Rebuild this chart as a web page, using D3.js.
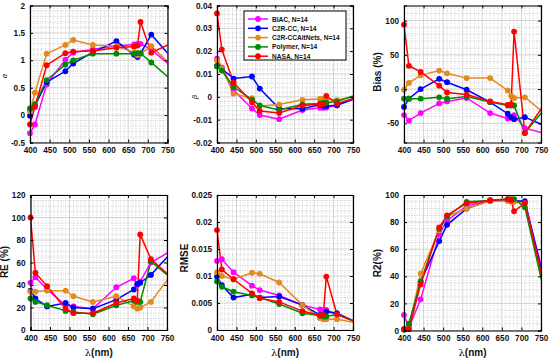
<!DOCTYPE html>
<html>
<head>
<meta charset="utf-8">
<script src="https://cdn.jsdelivr.net/npm/d3@7"></script>
<style>
  body { margin: 0; background: #fff; }
  svg { display: block; }
  text { font-family: "Liberation Sans", Arial, sans-serif; }
</style>
</head>
<body>
<script>
// OLCI bands (nm)
var wl = [400, 412.5, 442.5, 490, 510, 560, 620, 665, 673.75, 681.25, 708.75, 753.75];
var methods = ["BIAC, N=14", "C2R-CC, N=14", "C2R-CCAltNets, N=14", "Polymer, N=14", "NASA, N=14"];
var colors = ["#ff00ff", "#0000ff", "#e38a1f", "#008a00", "#ff0000"];
var xTicks = [400, 450, 500, 550, 600, 650, 700, 750];

// one row per method, same order as methods
var alpha = [
  [-0.33, -0.17, 0.56, 1.01, 1.14, 1.2, 1.26, 1.29, 1.3, 1.3, 1.2, 0.92],
  [-0.01, 0.17, 0.60, 0.80, 0.94, 1.15, 1.35, 1.10, 1.06, 1.12, 1.47, 1.1],
  [0.07, 0.41, 1.12, 1.28, 1.37, 1.28, 1.26, 1.14, 1.09, 1.12, 1.26, 0.95],
  [0.12, 0.20, 0.64, 0.92, 1.0, 1.12, 1.12, 1.12, 1.13, 1.13, 0.96, 0.68],
  [-0.17, 0.15, 0.91, 1.13, 1.16, 1.17, 1.23, 1.25, 1.27, 1.70, 1.14, 1.29]
];
var beta = [
  [0.0167, 0.0128, 0.003, -0.0051, -0.008, -0.0098, -0.0058, -0.0048, -0.0048, -0.0047, -0.0037, -0.0008],
  [0.0135, 0.0122, 0.008, 0.0089, 0.0036, -0.0051, -0.0052, -0.0035, -0.004, -0.004, -0.0037, -0.0008],
  [0.016, 0.0125, 0.0014, -0.0006, -0.004, -0.0034, -0.0013, -0.0009, -0.0009, -0.001, -0.0014, 0.0002],
  [0.0133, 0.0115, 0.0044, -0.0012, -0.0038, -0.0058, -0.0033, -0.0029, -0.0026, -0.0026, -0.002, 0.0006],
  [0.0365, 0.0207, 0.0063, -0.0024, -0.0062, -0.0071, -0.0038, -0.0033, -0.0031, 0.0004, -0.003, -0.0005]
];
var bias = [
  [-38, -46, -35, -21, -18, -13, -35, -43, -42, -38, -57, -64],
  [-26, -14, 0, 15, 10, -1, -19, -36, -41, -44, -41, -52],
  [-1, 9, 20, 27, 23, 16, 16, -2, -10, -13, -12, -33],
  [-14, -14, -14, -12, -14, -11, -19, -24, -24, -24, -64, -33],
  [94, 34, 25, 5, -5, -8, -18, -23, -22, 84, -64, -26]
];
var re = [
  [42, 47, 36, 22, 21, 19, 38, 46, 40, 43, 60, 69],
  [35, 28, 21, 24, 20, 19, 27, 36, 41, 42, 49, 66],
  [34, 34, 35, 35, 30, 25, 30, 21, 19, 20, 25, 46],
  [28, 25, 22, 17, 16, 14, 22, 26, 25, 25, 61, 48],
  [100, 51, 39, 19, 15, 15, 24, 28, 26, 85, 63, 49]
];
var rmse = [
  [0.0128, 0.0131, 0.0107, 0.0082, 0.0074, 0.0064, 0.0046, 0.0038, 0.0037, 0.0037, 0.0029, 0.0016],
  [0.0099, 0.0083, 0.006, 0.0066, 0.006, 0.0062, 0.0046, 0.0028, 0.0028, 0.0034, 0.0031, 0.0016],
  [0.0107, 0.01, 0.0094, 0.0106, 0.0104, 0.0088, 0.0046, 0.0022, 0.002, 0.002, 0.002, 0.0014],
  [0.009, 0.008, 0.0071, 0.0064, 0.006, 0.0048, 0.0031, 0.0027, 0.0025, 0.0025, 0.0029, 0.0016],
  [0.0185, 0.0112, 0.0094, 0.0068, 0.0059, 0.0052, 0.0035, 0.0027, 0.0028, 0.0099, 0.0029, 0.0016]
];
var r2 = [
  [11.5, 2, 23, 71, 81, 92, 96, 96, 96, 96, 94.5, 44],
  [1, 4, 36, 66, 78, 90, 96, 96, 96, 95.5, 95.5, 42],
  [1, 2, 42, 74, 84, 90, 95.5, 95.5, 95, 95, 94, 37],
  [0.5, 5, 36, 75, 84, 95, 96, 97, 97, 97, 91, 34],
  [1, 1, 34, 76, 85, 94, 96, 97, 96, 88, 94, 39]
];

var yTicksAlpha = [-0.5, 0, 0.5, 1, 1.5, 2];
var yTicksBeta = [-0.02, -0.01, 0, 0.01, 0.02, 0.03, 0.04];
var yTicksBias = [-50, 0, 50, 100];
var yTicksRE = [0, 20, 40, 60, 80, 100, 120];
var yTicksRMSE = [0, 0.005, 0.01, 0.015, 0.02, 0.025];
var yTicksR2 = [0, 20, 40, 60, 80, 100];

var svg = d3.select("body").append("svg")
  .attr("width", 550)
  .attr("height", 360);

var panels = [
  {x: 30, y: 5.5, w: 137.5, h: 137, data: alpha, dom: [-0.5, 2], ticks: yTicksAlpha, minor: 0.1, label: "\u03b1", greek: true, lx: 7, ly: 76},
  {x: 217, y: 5.5, w: 136, h: 137, data: beta, dom: [-0.02, 0.04], ticks: yTicksBeta, minor: 0.002, label: "\u03b2", greek: true, lx: 197, ly: 97},
  {x: 404, y: 5.5, w: 137, h: 137, data: bias, dom: [-78, 122], ticks: yTicksBias, minor: 10, label: "Bias (%)", lx: 381, ly: 72},
  {x: 30.5, y: 195, w: 136.5, h: 135, data: re, dom: [0, 120], ticks: yTicksRE, minor: 5, label: "RE (%)", lx: 8, ly: 262, xl: true},
  {x: 217, y: 195, w: 136, h: 135, data: rmse, dom: [0, 0.025], ticks: yTicksRMSE, minor: 0.001, label: "RMSE", lx: 188, ly: 258, xl: true},
  {x: 404, y: 195, w: 137, h: 135.5, data: r2, dom: [0, 100], ticks: yTicksR2, minor: 5, label: "R2(%)", lx: 381, ly: 263, xl: true}
];

panels.forEach(function(p, pi) {
  var x = d3.scaleLinear().domain([400, 750]).range([0, p.w]);
  var y = d3.scaleLinear().domain(p.dom).range([p.h, 0]);
  var g = svg.append("g").attr("transform", "translate(" + p.x + "," + p.y + ")");

  // minor grid (dotted)
  var xMinor = d3.range(410, 750, 10).filter(function(v) { return v % 50 != 0; });
  var yMinor = d3.range(Math.ceil(p.dom[0] / p.minor), Math.floor(p.dom[1] / p.minor) + 1)
    .map(function(k) { return k * p.minor; })
    .filter(function(v) { return !p.ticks.some(function(t) { return Math.abs(t - v) < p.minor / 10; }); });
  g.selectAll(".mx").data(xMinor).enter().append("line")
    .attr("x1", x).attr("x2", x).attr("y1", 0).attr("y2", p.h)
    .attr("stroke", "#b0b0b0").attr("stroke-width", 0.6).attr("stroke-dasharray", "1,1.5");
  g.selectAll(".my").data(yMinor).enter().append("line")
    .attr("y1", y).attr("y2", y).attr("x1", 0).attr("x2", p.w)
    .attr("stroke", "#b0b0b0").attr("stroke-width", 0.6).attr("stroke-dasharray", "1,1.5");

  // major grid
  g.selectAll(".gx").data(xTicks).enter().append("line")
    .attr("x1", x).attr("x2", x).attr("y1", 0).attr("y2", p.h)
    .attr("stroke", "#d3d3d3").attr("stroke-width", 1);
  g.selectAll(".gy").data(p.ticks).enter().append("line")
    .attr("y1", y).attr("y2", y).attr("x1", 0).attr("x2", p.w)
    .attr("stroke", "#d3d3d3").attr("stroke-width", 1);

  // clip lines to the axes box, markers stay whole
  svg.append("clipPath").attr("id", "clip" + pi)
    .append("rect").attr("width", p.w).attr("height", p.h);

  var plot = g.append("g").attr("clip-path", "url(#clip" + pi + ")");
  var marks = g.append("g");
  var line = d3.line().x(function(d, i) { return x(wl[i]); }).y(function(d) { return y(d); });

  p.data.forEach(function(row, si) {
    plot.append("path")
      .datum(row)
      .attr("d", line)
      .attr("fill", "none")
      .attr("stroke", colors[si])
      .attr("stroke-width", 1.5);
    var pts = row.map(function(v, i) { return {w: wl[i], v: v}; })
      .filter(function(d) { return d.w <= 750; });
    marks.selectAll(".pt" + si).data(pts).enter().append("circle")
      .attr("cx", function(d) { return x(d.w); })
      .attr("cy", function(d) { return y(d.v); })
      .attr("r", 2.9)
      .attr("fill", colors[si]);
  });

  // axes, MATLAB style box with ticks inward
  var xb = d3.axisBottom(x).tickValues(xTicks).tickSize(-3).tickPadding(5).tickFormat(d3.format("d"));
  var xt = d3.axisTop(x).tickValues(xTicks).tickSize(-3).tickFormat("");
  var yl = d3.axisLeft(y).tickValues(p.ticks).tickSize(-3).tickPadding(5).tickFormat(function(d) { return String(d); });
  var yr = d3.axisRight(y).tickValues(p.ticks).tickSize(-3).tickFormat("");

  var ax = g.append("g");
  ax.append("g").attr("transform", "translate(0," + p.h + ")").call(xb);
  ax.append("g").call(xt);
  ax.append("g").call(yl);
  ax.append("g").attr("transform", "translate(" + p.w + ",0)").call(yr);

  ax.selectAll(".domain").attr("stroke", "#000").attr("stroke-width", 1.2);
  ax.selectAll(".tick line").attr("stroke", "#000");
  ax.selectAll(".tick text")
    .attr("font-family", "Liberation Sans, Arial, sans-serif")
    .attr("font-weight", "bold")
    .attr("font-size", 8.2)
    .attr("fill", "#111");

  // y label
  var lab = svg.append("text")
    .attr("transform", "translate(" + p.lx + "," + p.ly + ") rotate(-90)")
    .attr("text-anchor", "middle")
    .attr("fill", "#111");
  if (p.greek) {
    lab.attr("font-family", "DejaVu Serif, serif").attr("font-style", "italic").attr("font-size", 7).text(p.label);
  } else {
    lab.attr("font-weight", "bold").attr("font-size", 10).text(p.label);
  }

  // x label
  if (p.xl) {
    var t = svg.append("text")
      .attr("x", p.x + p.w / 2)
      .attr("y", 356)
      .attr("text-anchor", "middle")
      .attr("font-size", 10)
      .attr("fill", "#111");
    t.append("tspan").attr("font-family", "DejaVu Serif, serif").text("\u03bb");
    t.append("tspan").attr("font-weight", "bold").text("(nm)");
  }
});

// legend in beta panel
var leg = svg.append("g").attr("transform", "translate(244,11)");
leg.append("rect")
  .attr("width", 102).attr("height", 49)
  .attr("fill", "#fff").attr("stroke", "#000").attr("stroke-width", 1);

methods.forEach(function(m, i) {
  var yy = 8 + i * 9.3;
  leg.append("line")
    .attr("x1", 4).attr("x2", 24).attr("y1", yy).attr("y2", yy)
    .attr("stroke", colors[i]).attr("stroke-width", 1.5);
  leg.append("circle").attr("cx", 14).attr("cy", yy).attr("r", 2.9).attr("fill", colors[i]);
  leg.append("text")
    .attr("x", 28).attr("y", yy + 2.5)
    .attr("font-size", 6.6).attr("font-weight", "bold").attr("fill", "#111")
    .text(m);
});
</script>
</body>
</html>
